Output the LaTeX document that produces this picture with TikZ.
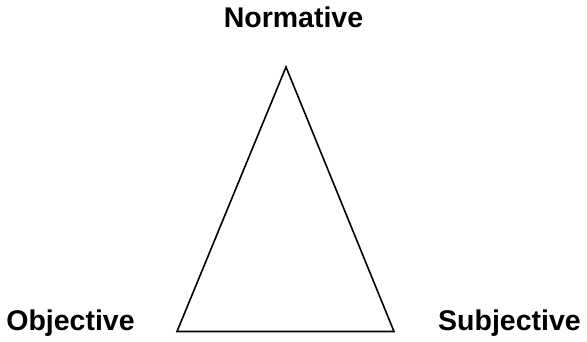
\documentclass[tikz,border=0pt]{standalone}
\usepackage{fontspec}
\setmainfont{Liberation Sans}
\begin{document}
\begin{tikzpicture}[x=1pt,y=-1pt,
  lbl/.style={font=\fontsize{28.5}{32}\selectfont\bfseries, inner sep=0pt, anchor=base},
  edge/.style={draw=black, line width=1.6pt, line join=miter}]
\useasboundingbox (0,0) rectangle (587,342);
\coordinate (top) at (286,67);
\coordinate (bl) at (177,331.5);
\coordinate (br) at (394,331.5);
\draw[edge] (top) -- (bl) -- (br) -- cycle;
\node[lbl] (norm) at (293.5,28) {Normative};
\node[lbl] (obj) at (70.5,330) {Objective};
\node[lbl] (subj) at (509.5,330) {Subjective};
\end{tikzpicture}
\end{document}
